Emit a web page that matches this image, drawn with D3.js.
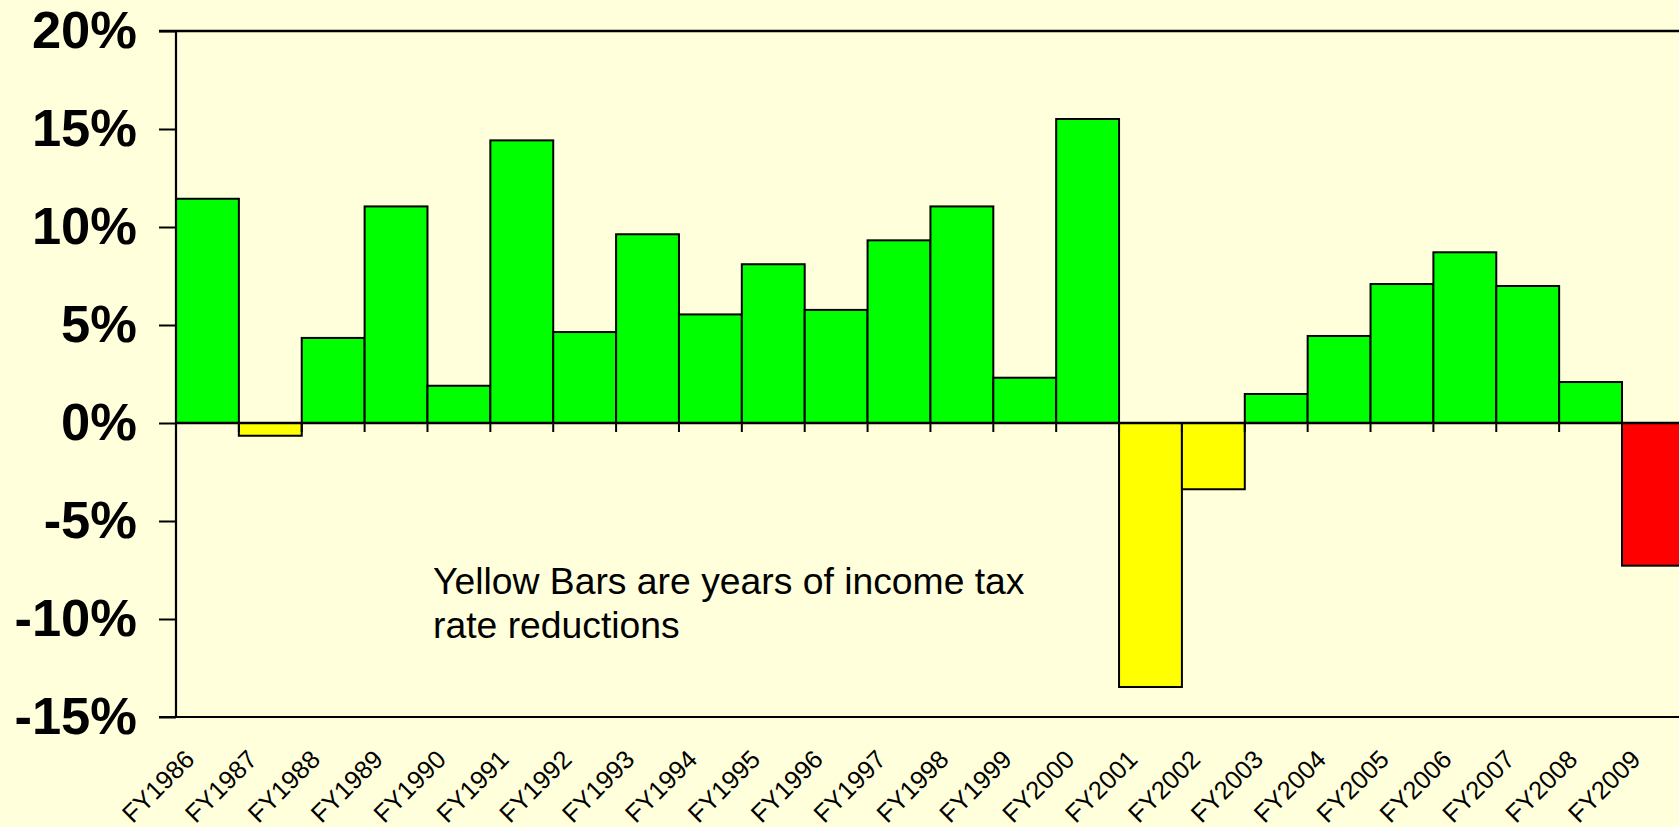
<!DOCTYPE html>
<html>
<head>
<meta charset="utf-8">
<script src="https://cdn.jsdelivr.net/npm/d3@7"></script>
<style>
  html, body { margin: 0; padding: 0; background: #FFFFDB; overflow: hidden; }
  svg { display: block; }
</style>
</head>
<body>
<svg id="chart" width="1679" height="827"></svg>
<script>
const years = ["FY1986","FY1987","FY1988","FY1989","FY1990","FY1991","FY1992","FY1993",
  "FY1994","FY1995","FY1996","FY1997","FY1998","FY1999","FY2000","FY2001","FY2002",
  "FY2003","FY2004","FY2005","FY2006","FY2007","FY2008","FY2009"];
const growth = [11.44, -0.65, 4.34, 11.05, 1.90, 14.42, 4.64, 9.63, 5.54, 8.10, 5.77, 9.32,
  11.05, 2.31, 15.51, -13.47, -3.38, 1.48, 4.44, 7.09, 8.71, 6.99, 2.09, -7.28];
const barKind = ["up","cut","up","up","up","up","up","up","up","up","up","up",
  "up","up","up","cut","cut","up","up","up","up","up","up","down"];
const yTicks = [20, 15, 10, 5, 0, -5, -10, -15];
const noteLines = ["Yellow Bars are years of income tax", "rate reductions"];

const kindColor = { up: "#00FF00", cut: "#FFFF00", down: "#FF0000" };

const svg = d3.select("#chart");
const W = 1679;
const pL = 176, pR = 176 + 24 * 62.87, pT = 31, pB = 717;

const x = d3.scaleBand().domain(years).range([pL, pR]).padding(0);
const y = d3.scaleLinear().domain([-15, 20]).range([pB, pT]);

const data = years.map((yr, i) => ({ yr, v: growth[i], k: barKind[i] }));

// bars
svg.append("g").selectAll("rect").data(data).join("rect")
  .attr("x", d => x(d.yr))
  .attr("width", x.bandwidth())
  .attr("y", d => y(Math.max(0, d.v)))
  .attr("height", d => Math.abs(y(d.v) - y(0)))
  .attr("fill", d => kindColor[d.k])
  .attr("stroke", "#000")
  .attr("stroke-width", 2);

// zero line with downward ticks at category boundaries
const zeroG = svg.append("g").attr("transform", `translate(0,${y(0)})`);
zeroG.append("line").attr("x1", pL).attr("x2", W + 10).attr("y1", 0).attr("y2", 0)
  .attr("stroke", "#000").attr("stroke-width", 2.5);
zeroG.selectAll("line.tk").data(years.slice(1)).join("line").attr("class", "tk")
  .attr("x1", d => x(d)).attr("x2", d => x(d))
  .attr("y1", 0).attr("y2", 9)
  .attr("stroke", "#000").attr("stroke-width", 2);

// top and bottom frame lines
svg.append("line").attr("x1", pL - 17).attr("x2", W + 10)
  .attr("y1", y(20)).attr("y2", y(20)).attr("stroke", "#000").attr("stroke-width", 2.6);
svg.append("line").attr("x1", pL - 17).attr("x2", W + 10)
  .attr("y1", y(-15)).attr("y2", y(-15)).attr("stroke", "#000").attr("stroke-width", 2.2);

// y axis
const yAxis = d3.axisLeft(y).tickValues(yTicks).tickSize(17).tickPadding(22)
  .tickFormat(d => d + "%");
const yG = svg.append("g").attr("transform", `translate(${pL},0)`).call(yAxis);
yG.select(".domain").attr("stroke", "#000").attr("stroke-width", 2.2)
  .attr("d", `M0,${pT}V${pB}`);
yG.selectAll(".tick line").attr("stroke", "#000").attr("stroke-width", 2);
yG.selectAll(".tick text")
  .attr("fill", "#000")
  .style("font-family", "'Liberation Sans', Arial, sans-serif")
  .style("font-weight", "bold")
  .style("font-size", "52.5px");

// x labels
svg.append("g").selectAll("text").data(years).join("text")
  .attr("transform", d => `translate(${x(d) + x.bandwidth() / 2 - 11.5},${pB + 44}) rotate(-45)`)
  .attr("text-anchor", "end")
  .style("font-family", "'Liberation Sans', Arial, sans-serif")
  .style("font-size", "25.5px")
  .attr("fill", "#000")
  .text(d => d);

// annotation
svg.append("text")
  .attr("x", 433).attr("y", 594)
  .style("font-family", "'Liberation Sans', Arial, sans-serif")
  .style("font-size", "37.3px")
  .attr("fill", "#000")
  .selectAll("tspan").data(noteLines).join("tspan")
  .attr("x", 433).attr("dy", (d, i) => i === 0 ? 0 : 44)
  .text(d => d);
</script>
</body>
</html>
